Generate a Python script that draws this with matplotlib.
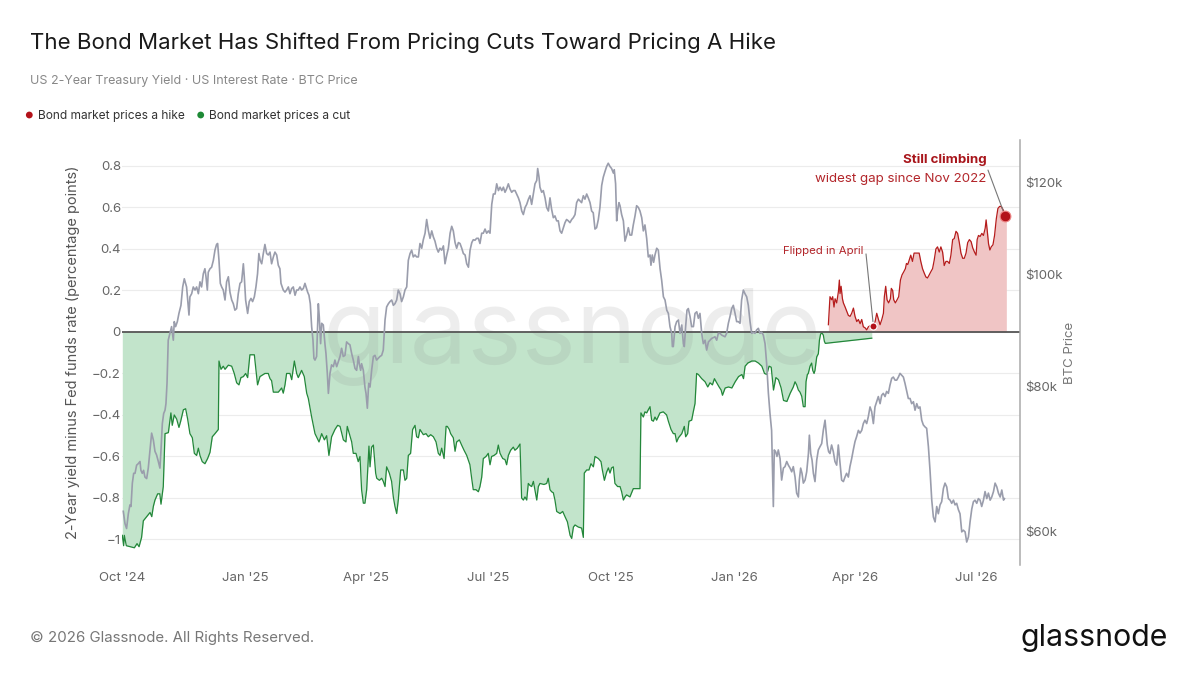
import numpy as np
import pandas as pd
import matplotlib
matplotlib.use("Agg")
import matplotlib.pyplot as plt
from matplotlib.ticker import FixedLocator, FuncFormatter, NullLocator

plt.rcParams['font.family'] = ['Inter', 'DejaVu Sans']

START = pd.Timestamp('2024-10-01')

# (days since 2024-10-01, 2y yield minus Fed funds, pp) while the market prices a cut
cut = [
    (0, -0.98), (1, -1.03), (1.5, -0.98), (3, -1.03), (9, -1.04), (11, -1.02), (12.5, -1.035),
    (14.4, -0.99), (15.7, -0.91), (18.2, -0.89), (20.7, -0.87), (22, -0.89), (23.2, -0.84),
    (24.4, -0.81), (26.4, -0.78), (28, -0.78), (28.9, -0.83), (30.6, -0.745), (31.9, -0.49),
    (34.4, -0.485), (36.3, -0.39), (37.3, -0.45), (38.8, -0.40), (40.6, -0.42), (42.3, -0.46),
    (43.6, -0.43), (45.6, -0.375), (47.3, -0.37), (48.8, -0.42), (50.5, -0.49), (52.3, -0.51),
    (53.8, -0.585), (55.5, -0.595), (56.8, -0.56), (58, -0.595), (59.7, -0.625), (61.7, -0.635),
    (63.7, -0.61), (65.5, -0.58), (67.2, -0.505), (69.2, -0.49), (71.7, -0.47), (72.2, -0.14),
    (73.7, -0.18), (75.4, -0.165), (76.7, -0.18), (79.2, -0.16), (81.7, -0.165), (83.6, -0.20),
    (85.4, -0.245), (87.1, -0.255), (88.6, -0.22), (90.4, -0.215), (92.1, -0.20), (93.6, -0.22),
    (95.3, -0.11), (98.6, -0.11), (101, -0.255), (102.8, -0.215), (106.5, -0.20), (109, -0.20),
    (110.3, -0.225), (111.5, -0.235), (112.8, -0.29), (116.5, -0.29), (119, -0.27), (120.2, -0.295),
    (121.5, -0.255), (122.7, -0.20), (125.2, -0.20), (126.5, -0.23), (128.5, -0.14), (130.2, -0.20),
    (131.4, -0.22), (133.9, -0.185), (135.9, -0.215), (137.7, -0.295), (138.9, -0.32), (141.4, -0.41),
    (143.9, -0.49), (146.9, -0.53), (148.9, -0.49), (150.9, -0.52), (152.6, -0.50), (154.3, -0.595),
    (156.3, -0.505), (158.8, -0.47), (160.8, -0.45), (162.6, -0.455), (165.1, -0.52), (167, -0.53),
    (168, -0.455), (169.5, -0.49), (171.3, -0.53), (172.5, -0.585), (174.5, -0.585), (176.2, -0.625),
    (177.5, -0.60), (178.7, -0.76), (180, -0.825), (181.2, -0.825), (182.5, -0.76), (184.2, -0.55),
    (185, -0.65), (186.2, -0.555), (187.5, -0.545), (189.2, -0.68), (190, -0.705), (192, -0.715),
    (193.7, -0.705), (194.9, -0.72), (196.2, -0.745), (197.4, -0.65), (199.4, -0.68), (201.1, -0.72),
    (202.4, -0.795), (203.6, -0.84), (204.9, -0.875), (206.1, -0.81), (207.9, -0.665), (209.9, -0.665),
    (211.1, -0.715), (212.4, -0.705), (213.6, -0.595), (215.3, -0.585), (216.8, -0.47), (218.6, -0.45),
    (219.8, -0.505), (221.1, -0.51), (222.3, -0.47), (224.8, -0.495), (226.8, -0.49), (228.5, -0.505),
    (230.3, -0.495), (232.3, -0.505), (234.3, -0.53), (236, -0.585), (237.3, -0.595), (238.5, -0.56),
    (240.3, -0.61), (241.8, -0.455), (242.7, -0.455), (244.2, -0.47), (245.2, -0.49), (247.2, -0.51),
    (248.5, -0.575), (249.7, -0.53), (251.7, -0.52), (253.4, -0.545), (255.2, -0.57), (257.2, -0.595),
    (259.6, -0.64), (260.9, -0.705), (262.1, -0.76), (264.1, -0.76), (265.9, -0.77), (267.1, -0.745),
    (268.4, -0.70), (269.6, -0.61), (271.6, -0.60), (273.3, -0.585), (274.6, -0.64), (275.8, -0.60),
    (277.6, -0.595), (279.6, -0.585), (280.8, -0.545), (282.1, -0.585), (284.1, -0.61), (285.8, -0.615),
    (287, -0.64), (288.3, -0.595), (290, -0.57), (292, -0.555), (293.2, -0.57), (295, -0.56),
    (297, -0.54), (298.2, -0.80), (299.5, -0.81), (300.7, -0.795), (302, -0.81), (303.2, -0.73),
    (304.5, -0.74), (305.7, -0.745), (307, -0.72), (309.5, -0.81), (310.7, -0.745), (311.9, -0.73),
    (314.9, -0.735), (316.9, -0.73), (318.1, -0.705), (319.4, -0.76), (320.6, -0.77), (321.9, -0.775),
    (323.1, -0.81), (324.4, -0.865), (326.9, -0.875), (328.9, -0.865), (330.6, -0.89), (332.4, -0.915),
    (334.4, -0.98), (335.6, -0.995), (336.9, -0.94), (338.1, -0.93), (340.5, -0.94), (343, -0.945),
    (344.3, -0.99), (345, -0.68), (346.8, -0.665), (348.5, -0.665), (350, -0.635), (351.8, -0.65),
    (353, -0.60), (355.5, -0.61), (357.5, -0.625), (358.5, -0.665), (360, -0.715), (361.7, -0.675),
    (363, -0.655), (364.2, -0.68), (365.4, -0.655), (366.7, -0.65), (367.9, -0.73), (369.9, -0.745),
    (371.7, -0.745), (372.9, -0.77), (374.2, -0.81), (375.4, -0.795), (376.6, -0.785), (379.1, -0.795),
    (381.6, -0.755), (386.6, -0.755), (387.3, -0.39), (389.1, -0.41), (390.3, -0.385), (391.6, -0.39),
    (392.8, -0.375), (394.1, -0.36), (395.3, -0.425), (396.6, -0.43), (397.8, -0.41), (399, -0.425),
    (401.5, -0.39), (404, -0.385), (406.5, -0.40), (407.8, -0.43), (409.8, -0.47), (411.5, -0.49),
    (412.8, -0.49), (414, -0.53), (415.3, -0.51), (417.8, -0.49), (419.7, -0.455), (420.7, -0.505),
    (422.2, -0.49), (423.2, -0.43), (425.2, -0.425), (426.4, -0.385), (427.7, -0.345), (428.9, -0.20),
    (430.2, -0.205), (432.7, -0.225), (435.2, -0.24), (437.2, -0.265), (438.9, -0.245), (440.7, -0.255),
    (442.2, -0.225), (443.9, -0.245), (445.7, -0.265), (447.2, -0.28), (448.2, -0.305), (450.2, -0.27),
    (452.7, -0.265), (455.2, -0.27), (457.7, -0.24), (460.2, -0.215), (462.7, -0.205), (463.9, -0.225),
    (465.1, -0.165), (467.1, -0.15), (470.1, -0.14), (472.6, -0.14), (475.1, -0.15), (477.6, -0.165),
    (479.6, -0.20), (481.3, -0.205), (483, -0.165), (484.6, -0.17), (486.3, -0.28), (488.1, -0.22),
    (490, -0.23), (492, -0.27), (493.8, -0.33), (496.3, -0.335), (498.8, -0.295), (501.1, -0.265),
    (502.4, -0.24), (503.6, -0.255), (504.9, -0.28), (506.1, -0.29), (507.4, -0.31), (508.6, -0.36),
    (509.9, -0.36), (510.6, -0.24), (511.6, -0.205), (512.3, -0.20), (513.6, -0.165), (514.8, -0.15),
    (515.6, -0.185), (516.6, -0.20), (517.3, -0.185), (518.6, -0.12), (519.8, -0.105), (520.6, -0.04),
    (521.5, -0.01), (522.5, -0.005), (523.5, -0.015), (524.3, -0.045), (525, -0.055), (559.7, -0.03),
]

# same spread once the market prices a hike
hike = [
    (527.3, 0.035), (528.5, 0.17), (529.7, 0.155), (530.5, 0.17), (531.5, 0.12), (532.3, 0.16),
    (533.5, 0.14), (534.8, 0.195), (535.5, 0.25), (536, 0.185), (536.8, 0.22), (537.8, 0.16),
    (538.5, 0.14), (539.8, 0.12), (541, 0.10), (542.2, 0.08), (543.5, 0.075), (544.7, 0.09),
    (546, 0.115), (547.2, 0.075), (548.5, 0.05), (549.7, 0.06), (551, 0.04), (552.2, 0.06),
    (553.4, 0.025), (554.7, 0.02), (555.9, 0.01), (557.2, 0.025), (558.4, 0.03), (560.9, 0.03),
    (562.2, 0.05), (563.4, 0.09), (564.7, 0.06), (565.9, 0.035), (567.2, 0.06), (568.4, 0.09),
    (569.1, 0.17), (570.1, 0.22), (571.1, 0.155), (572.3, 0.14), (573.6, 0.16), (574.3, 0.21),
    (575.3, 0.20), (576.1, 0.155), (577.3, 0.14), (578.6, 0.155), (579.8, 0.17), (581.1, 0.25),
    (582.3, 0.275), (583.6, 0.29), (584.8, 0.305), (585.6, 0.33), (586.6, 0.325), (587.6, 0.345),
    (588.8, 0.37), (590.1, 0.34), (591.3, 0.38), (593.3, 0.38), (595.1, 0.38), (596.3, 0.34),
    (597.6, 0.305), (598.8, 0.285), (600.1, 0.265), (601.3, 0.26), (602.6, 0.275), (603.8, 0.29),
    (605.1, 0.305), (606.3, 0.345), (607.6, 0.40), (608.8, 0.41), (610.1, 0.385), (611.3, 0.41),
    (612.6, 0.385), (613.8, 0.32), (615.1, 0.34), (616.3, 0.34), (617.6, 0.33), (618.8, 0.37),
    (620.1, 0.445), (621.3, 0.45), (622.6, 0.485), (623.8, 0.475), (625.1, 0.43), (626.3, 0.38),
    (627.6, 0.355), (628.8, 0.355), (630.1, 0.38), (631.3, 0.43), (632.6, 0.445), (633.9, 0.435),
    (635.1, 0.405), (636.4, 0.385), (637.6, 0.37), (638.4, 0.445), (639.4, 0.465), (640.6, 0.46),
    (641.9, 0.475), (643.1, 0.465), (644.4, 0.50), (645.1, 0.54), (645.9, 0.49), (646.9, 0.425),
    (647.9, 0.395), (648.9, 0.41), (650.2, 0.42), (651.4, 0.465), (652.7, 0.545), (653.9, 0.595),
    (655.2, 0.605), (656.4, 0.605), (657.7, 0.59), (658.9, 0.57), (660.2, 0.56),
]

# BTC price, $k
btc = [
    (0.75, 62.4), (2, 60.9), (3.2, 60.3), (4.5, 62.1), (5.7, 63.2), (6.5, 63.0), (7.5, 66.0),
    (8.5, 67.3), (9.5, 67.3), (10.7, 68.4), (11.9, 68.6), (13.2, 68.9), (13.9, 67.7), (14.9, 67.3),
    (15.9, 67.7), (16.9, 66.8), (18.2, 66.6), (19.4, 68.0), (20.7, 70.5), (21.9, 72.9), (23.2, 71.9),
    (24.4, 70.3), (25.6, 69.8), (26.9, 68.9), (28.1, 68.0), (28.9, 70.5), (29.9, 74.3), (30.9, 75.8),
    (31.9, 76.3), (32.6, 77.3), (33.4, 80.5), (34.3, 87.7), (35.6, 88.9), (36.8, 90.1), (38.1, 87.7),
    (38.8, 91.0), (39.8, 90.1), (41.1, 91.0), (42.3, 92.5), (43.8, 94.0), (45.1, 97.5), (46.3, 99.1),
    (47.3, 98.2), (48, 97.5), (48.8, 95.0), (49.8, 92.2), (50.5, 95.6), (51.8, 96.2), (53, 97.5),
    (54.3, 96.9), (55.5, 97.5), (56.8, 96.2), (58, 98.5), (59.2, 97.5), (60.5, 100.1), (61.7, 101.1),
    (62.5, 99.5), (63.5, 96.9), (64.2, 100.4), (65.5, 101.1), (66.7, 101.4), (68, 102.8), (69.2, 104.9),
    (70.4, 106.1), (71.2, 106.3), (72.2, 102.8), (73.2, 98.2), (74.2, 97.5), (75.4, 96.9), (76.7, 95.0),
    (77.9, 98.5), (79.2, 99.5), (80.4, 96.5), (81.7, 95.0), (82.9, 94.3), (84.1, 93.1), (85.4, 93.4),
    (86.6, 96.2), (87.9, 98.2), (89.1, 98.5), (90.4, 102.1), (91.1, 99.5), (92.1, 95.0), (93.6, 92.5),
    (94.8, 94.7), (96.1, 95.3), (97.3, 94.7), (98.6, 95.6), (99.8, 97.5), (101, 100.1), (102, 104.2),
    (103, 102.8), (104.1, 102.1), (105.3, 104.2), (106.5, 106.1), (107.8, 104.2), (109, 103.9),
    (110.3, 104.5), (111.5, 102.1), (112.8, 103.5), (114, 104.5), (115.3, 103.9), (116.5, 101.8),
    (117.7, 101.1), (118.5, 98.2), (120.2, 96.9), (121.5, 96.5), (122.7, 96.9), (124, 97.5),
    (125.2, 96.2), (126.5, 97.2), (127.7, 97.5), (129, 95.9), (130.2, 96.9), (131.4, 96.9),
    (132.7, 97.5), (133.9, 96.9), (135.2, 97.2), (136.4, 98.2), (137.2, 97.5), (138.4, 96.5),
    (139.4, 95.9), (140.4, 94.3), (141.4, 90.1), (142.4, 87.7), (143.1, 84.6), (143.9, 84.3),
    (145.1, 84.9), (146.4, 94.3), (147.1, 91.9), (148.1, 87.1), (148.9, 90.7), (150.1, 90.4),
    (151.4, 86.9), (152.1, 85.4), (153.1, 82.1), (153.9, 78.9), (155.1, 82.1), (156.3, 83.5),
    (157.6, 83.2), (158.8, 84.3), (160.1, 83.2), (161.3, 84.0), (162.6, 84.9), (163.8, 86.3),
    (165, 84.9), (166.3, 85.1), (167.5, 87.4), (168.8, 87.1), (170, 86.9), (171.3, 85.4), (172.5, 84.3),
    (173.8, 82.9), (175, 82.6), (176.3, 84.9), (177, 83.7), (178, 82.6), (178.7, 83.7), (180, 82.6),
    (181.2, 79.9), (182, 78.9), (183, 76.6), (184, 80.5), (185, 79.9), (186.2, 82.6), (187.5, 84.9),
    (188.7, 85.1), (189.9, 84.3), (191.2, 84.6), (192.4, 84.9), (193.7, 85.1), (194.9, 86.0),
    (196.2, 91.3), (197.4, 93.7), (198.7, 94.3), (199.9, 94.7), (201.2, 95.0), (202.4, 94.0),
    (203.6, 94.3), (204.9, 95.0), (206.1, 96.9), (207.4, 96.2), (208.6, 94.7), (209.9, 95.6),
    (211.1, 96.9), (212.4, 97.5), (213.6, 102.8), (214.9, 104.2), (216.1, 104.9), (217.3, 103.5),
    (218.6, 103.9), (219.8, 103.5), (221.1, 103.5), (222.3, 106.3), (223.6, 105.3), (224.8, 107.1),
    (226.1, 108.5), (227.3, 111.5), (228.6, 109.0), (229.8, 107.4), (231.1, 109.0), (232.3, 107.7),
    (233.5, 106.8), (234.8, 105.3), (236, 104.5), (237.2, 105.3), (238.5, 104.9), (239.8, 105.8),
    (241, 102.1), (242.3, 103.9), (243.5, 105.3), (244.8, 108.5), (246, 110.0), (247.2, 109.0),
    (248.5, 106.5), (249.7, 105.3), (251, 106.5), (252.2, 106.3), (253.5, 105.3), (254.7, 104.2),
    (256, 103.9), (257.2, 102.1), (258.5, 101.4), (259.7, 104.9), (261, 106.5), (262.1, 107.1),
    (263.4, 107.0), (264.6, 107.4), (265.9, 107.4), (267.1, 106.3), (268.4, 108.5), (269.6, 108.5),
    (270.9, 109.4), (272.1, 108.5), (273.4, 109.0), (274.6, 108.5), (275.9, 114.9), (277.1, 117.3),
    (278.4, 117.3), (279.6, 119.7), (280.9, 118.1), (282.1, 118.9), (283.4, 118.1), (284.6, 118.9),
    (285.8, 117.7), (287, 118.5), (288.3, 119.7), (289.5, 118.5), (290.8, 117.7), (292, 118.1),
    (293.3, 118.1), (294.5, 117.3), (295.8, 116.4), (297, 115.3), (298.3, 113.4), (299.5, 112.6),
    (300.8, 114.2), (302, 114.9), (303.3, 116.1), (304.5, 116.9), (305.7, 114.9), (307, 117.3),
    (308.2, 119.7), (309.5, 120.5), (310.2, 123.4), (311.2, 121.3), (311.9, 118.9), (313.2, 117.7),
    (314.4, 118.1), (315.7, 116.4), (316.9, 114.2), (318.2, 113.4), (319.4, 116.4), (320.6, 113.8),
    (321.9, 111.9), (323.1, 112.3), (324.4, 111.2), (325.6, 111.2), (326.9, 109.0), (328.1, 108.5),
    (329.4, 109.7), (330.6, 110.8), (331.8, 111.5), (333.1, 111.2), (334.3, 110.8), (335.6, 111.5),
    (336.8, 111.9), (338.1, 112.6), (339.3, 115.3), (340.6, 116.1), (341.8, 115.7), (343, 115.3),
    (344.3, 116.9), (345.5, 116.1), (346.8, 117.3), (348, 116.4), (349.3, 115.3), (350.5, 113.4),
    (351.7, 113.0), (353, 109.4), (354.2, 109.7), (355.5, 111.5), (356.7, 114.2), (358, 119.3),
    (359.2, 121.3), (360.5, 122.7), (361.7, 123.9), (362.9, 124.7), (364.2, 123.9), (365.4, 123.4),
    (366.7, 122.3), (367.4, 123.1), (368.4, 119.7), (369.2, 111.2), (369.9, 113.4), (370.9, 115.3),
    (371.7, 114.6), (372.9, 112.6), (374.2, 111.2), (375.4, 106.8), (376.7, 108.1), (377.9, 109.7),
    (379.1, 108.1), (380.4, 108.1), (381.6, 110.3), (382.9, 112.3), (384.1, 114.6), (385.4, 114.2),
    (386.6, 113.4), (387.9, 111.9), (389.1, 109.0), (390.3, 110.3), (391.6, 107.4), (392.8, 103.5),
    (394.1, 103.9), (394.8, 101.8), (395.8, 103.9), (396.8, 102.4), (397.8, 103.9), (399.1, 105.3),
    (400.3, 104.9), (401.6, 101.1), (402.8, 98.8), (404.1, 95.6), (405.3, 95.0), (406.6, 93.1),
    (407.8, 92.5), (409, 90.1), (410.3, 88.9), (410.8, 86.6), (411.5, 86.6), (412.8, 90.1),
    (414, 91.0), (415.3, 91.3), (416.5, 88.9), (417.8, 90.4), (419, 87.1), (419.7, 86.6),
    (420.7, 90.1), (421.7, 93.1), (422.7, 93.4), (424, 91.9), (425.2, 90.1), (426.5, 90.1),
    (427.7, 92.5), (429, 92.8), (430.2, 91.6), (431.4, 92.5), (432.7, 88.9), (433.9, 87.1),
    (435.2, 87.7), (436.4, 86.0), (437.7, 87.4), (438.9, 87.7), (440.1, 88.0), (442.6, 88.3),
    (443.9, 87.7), (445.1, 88.9), (446.4, 88.9), (447.6, 88.6), (450.1, 88.3), (451.3, 88.9),
    (452.6, 90.7), (453.8, 91.9), (455.1, 93.4), (456.3, 94.0), (457.6, 92.5), (458.8, 91.0),
    (460.1, 91.0), (461.3, 90.7), (462.5, 95.0), (463.8, 96.9), (465, 96.2), (466.3, 95.6),
    (467.5, 94.0), (468.8, 91.0), (470, 88.9), (471.3, 89.1), (472.5, 88.9), (473.7, 89.5),
    (475, 89.8), (476.2, 88.9), (477.5, 89.1), (478.7, 88.6), (480, 87.1), (481.2, 83.7),
    (482.5, 78.9), (483.7, 75.8), (484.9, 73.3), (485.4, 69.1), (486.2, 63.0), (486.9, 70.5),
    (487.9, 70.25), (488.9, 69.6), (489.9, 70.5), (491.2, 69.3), (492.4, 66.4), (493.7, 68.0),
    (494.9, 68.2), (496.2, 68.9), (497.4, 68.4), (498.7, 68.0), (499.9, 67.5), (501.1, 68.2),
    (502.4, 66.8), (503.6, 64.7), (504.9, 64.2), (505.6, 66.4), (506.6, 68.0), (507.6, 67.3),
    (508.6, 66.0), (509.9, 66.4), (511.1, 67.5), (512.4, 70.0), (513.1, 72.6), (514.1, 70.0),
    (515.1, 69.1), (516.1, 67.3), (517.3, 66.2), (518.6, 69.1), (519.8, 70.5), (521, 70.95),
    (522.3, 71.4), (523.5, 73.3), (524.8, 74.8), (525.5, 73.3), (526.5, 71.2), (527.5, 70.25),
    (528.5, 70.0), (529.7, 71.2), (531, 70.25), (532.2, 68.9), (533.5, 68.4), (534.7, 71.2),
    (536, 68.6), (537.2, 66.4), (538.5, 66.2), (539.7, 66.8), (540.9, 67.3), (542.2, 66.8),
    (543.4, 68.2), (544.7, 69.3), (545.9, 70.5), (547.2, 71.7), (548.4, 72.4), (549.7, 73.3),
    (550.9, 72.9), (552.2, 73.3), (553.4, 74.3), (554.6, 74.8), (555.9, 74.3), (557.1, 75.3),
    (558.4, 76.8), (559.6, 76.1), (560.9, 74.3), (562.1, 76.8), (563.4, 77.6), (564.6, 78.4),
    (565.9, 77.3), (567.1, 78.6), (568.3, 78.9), (569.6, 78.4), (570.8, 79.2), (572.1, 78.9),
    (573.3, 80.2), (574.6, 81.3), (575.8, 81.5), (577.1, 81.0), (578.3, 81.0), (579.6, 81.5),
    (580.8, 82.1), (582, 81.8), (583.3, 81.5), (584.5, 80.5), (585.8, 79.2), (587, 78.1),
    (588.3, 78.1), (589.5, 77.3), (590.8, 77.6), (592, 76.3), (593.3, 77.3), (594.5, 76.6),
    (595.7, 76.8), (597, 74.8), (598.2, 74.1), (599.5, 73.8), (600.7, 73.6), (602, 70.95),
    (603.2, 67.7), (604.5, 63.8), (605.7, 61.7), (607, 61.1), (608.2, 63.0), (609.4, 62.1),
    (610.7, 63.2), (611.9, 63.6), (613.2, 65.3), (614.4, 66.0), (615.7, 65.5), (616.9, 64.0),
    (618.2, 63.8), (619.4, 63.4), (620.7, 63.8), (621.9, 63.2), (623.1, 63.4), (624.4, 62.6),
    (625.6, 62.1), (626.9, 59.9), (628.1, 60.1), (629.4, 59.9), (630.6, 58.7), (631.9, 59.3),
    (633.1, 61.1), (634.4, 62.7), (635.6, 63.6), (636.8, 63.8), (638.1, 63.4), (639.3, 64.0),
    (640.6, 63.8), (641.8, 63.0), (643.1, 63.8), (644.3, 64.9), (645.6, 64.0), (646.8, 64.7),
    (648.1, 63.8), (649.3, 64.2), (650.6, 64.9), (651.8, 66.0), (653.1, 65.5), (654.3, 64.7),
    (655.6, 64.2), (656.8, 65.1), (658.1, 63.8), (658.8, 64.0),
]

flip_point = (560.9, 0.03)    # "Flipped in April"
last_point = (659.2, 0.56)    # "Still climbing"

spread_ticks = [-1, -0.8, -0.6, -0.4, -0.2, 0, 0.2, 0.4, 0.6, 0.8]
btc_ticks = [60, 80, 100, 120]
month_ticks = ['2024-10-01', '2025-01-01', '2025-04-01', '2025-07-01',
               '2025-10-01', '2026-01-01', '2026-04-01', '2026-07-01']

GREEN_LINE = '#23873a'
GREEN_FILL = '#c2e4cb'
RED_LINE = '#b51c1c'
RED_FILL = '#f0c5c5'
BTC_GREY = '#9a9dac'
LABEL_GREY = '#666666'


def to_dates(days):
    return START + pd.to_timedelta(np.asarray(days, dtype=float), unit='D')


def split(pairs):
    days, vals = zip(*pairs)
    return to_dates(days), np.array(vals)


def fmt_spread(v):
    if v == 0:
        return '0'
    s = f'{abs(v):g}'
    return ('\u2212' if v < 0 else '') + s


cut_x, cut_y = split(cut)
hike_x, hike_y = split(hike)
btc_x, btc_y = split(btc)

fig = plt.figure(figsize=(12, 6.75), dpi=100)
W, H = 1200, 675
ax = fig.add_axes([122.3 / W, 1 - 565 / H, (1020 - 122.3) / W, 425 / H])
ax2 = ax.twinx()

# watermark
ax.text(0.477, 0.462, 'glassnode', transform=fig.transFigure, ha='center', va='baseline',
        fontsize=74, color='#888888', alpha=0.15, zorder=1.5)

ax.fill_between(cut_x, cut_y, 0, color=GREEN_FILL, lw=0, zorder=1)
ax.plot(cut_x, cut_y, color=GREEN_LINE, lw=0.9, zorder=2)
ax.fill_between(hike_x, hike_y, 0, color=RED_FILL, lw=0, zorder=1)
ax.plot(hike_x, hike_y, color=RED_LINE, lw=0.9, zorder=2)
ax.axhline(0, color='#555555', lw=1.3, zorder=3)

ax2.plot(btc_x, btc_y, color=BTC_GREY, lw=1.2, zorder=2)

# markers + annotations
fx, fy = to_dates([flip_point[0]])[0], flip_point[1]
lx, ly = to_dates([last_point[0]])[0], last_point[1]
ax.scatter([fx], [fy], s=26, color='#b3121a', edgecolor='white', linewidth=0.8, zorder=6)
ax.scatter([lx], [ly], s=60, color='#b3121a', edgecolor='#e88', linewidth=0.8, zorder=6)

ax.annotate('', xy=(lx, ly), xytext=(to_dates([646.5])[0], 0.78),
            arrowprops=dict(arrowstyle='-', color='#777777', lw=0.8, shrinkA=0, shrinkB=4),
            zorder=5)
ax.annotate('', xy=(fx, fy), xytext=(to_dates([555.4])[0], 0.376),
            arrowprops=dict(arrowstyle='-', color='#777777', lw=0.8, shrinkA=0, shrinkB=3),
            zorder=5)
ax.text(to_dates([645.5])[0], 0.829, 'Still climbing', ha='right', va='center',
        fontsize=9.6, fontweight='bold', color='#a8151b', zorder=6)
ax.text(to_dates([645.5])[0], 0.737, 'widest gap since Nov 2022', ha='right', va='center',
        fontsize=9.6, color='#b3262b', zorder=6)
ax.text(to_dates([553.5])[0], 0.39, 'Flipped in April', ha='right', va='center',
        fontsize=8.2, color='#b3262b', zorder=6)

# axes styling
ax.set_xlim(START, START + pd.Timedelta(days=670.4))
ax.set_ylim(-1.123, 0.925)
ax.set_yticks(spread_ticks)
ax.set_yticklabels([fmt_spread(v) for v in spread_ticks])
ticks = pd.to_datetime(month_ticks)
ax.set_xticks(ticks)
ax.set_xticklabels([t.strftime("%b '%y") for t in ticks])
ax.yaxis.grid(True, color='#ececec', lw=0.8)
ax.set_axisbelow(True)
ax.tick_params(axis='both', length=0, labelsize=9.5, labelcolor=LABEL_GREY)
ax.tick_params(axis='y', pad=1)
ax.tick_params(axis='x', pad=5)
for sp in ax.spines.values():
    sp.set_visible(False)
ax.set_ylabel('2-Year yield minus Fed funds rate (percentage points)', fontsize=10.5,
              color='#555555')
ax.yaxis.set_label_coords(-0.0468, 0.5)

ax2.set_yscale('log')
ax2.set_ylim(56.08, 130.6)
ax2.yaxis.set_major_locator(FixedLocator(btc_ticks))
ax2.yaxis.set_minor_locator(NullLocator())
ax2.yaxis.set_major_formatter(FuncFormatter(lambda v, p: f'${v:.0f}k'))
ax2.tick_params(axis='y', length=0, labelsize=9.5, labelcolor=LABEL_GREY, pad=4)
for name, sp in ax2.spines.items():
    sp.set_visible(name == 'right')
ax2.spines['right'].set_color('#aaaaaa')
ax2.spines['right'].set_linewidth(1.1)
ax2.set_ylabel('BTC Price', fontsize=9.5, color='#777777', rotation=90)
ax2.yaxis.set_label_coords(1.049, 0.5)

# header
fig.text(30 / W, 1 - 49.3 / H, 'The Bond Market Has Shifted From Pricing Cuts Toward Pricing A Hike',
         fontsize=16, color='#1a1a1a', va='baseline')
fig.text(30 / W, 1 - 84 / H, 'US 2-Year Treasury Yield \u00b7 US Interest Rate \u00b7 BTC Price',
         fontsize=9, color='#888888', va='baseline')
fig.text(37.7 / W, 1 - 119 / H, 'Bond market prices a hike', fontsize=8.6, color='#333333',
         va='baseline')
fig.text(209.3 / W, 1 - 119 / H, 'Bond market prices a cut', fontsize=8.6, color='#333333',
         va='baseline')
dots = fig.add_axes([0, 0, 1, 1], facecolor='none')
dots.set_xlim(0, W)
dots.set_ylim(H, 0)
dots.axis('off')
dots.scatter([29.3, 200.7], [115, 115], s=24, color=['#b3121a', '#1e8a36'], linewidth=0)

# footer
fig.text(30 / W, 1 - 638 / H, '\u00a9 2026 Glassnode. All Rights Reserved.', fontsize=10.8,
         color='#777777', va='center')
fig.text(1168 / W, 1 - 638 / H, 'glassnode', fontsize=21.8, color='#111111', va='center',
         ha='right')

fig.savefig('out.png', dpi=100)
